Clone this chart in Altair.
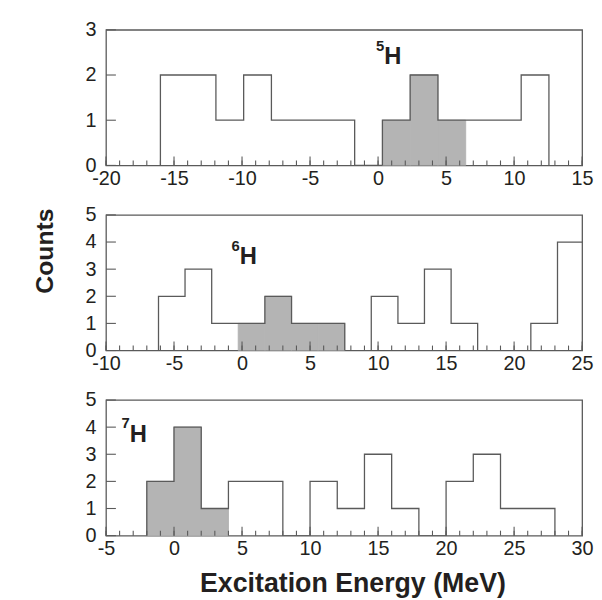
import altair as alt
import pandas as pd

# ---- data ----
# 5H
h5_edges = [-16.0, -13.96, -11.92, -9.88, -7.84, -5.80, -3.76, -1.72, 0.32, 2.36, 4.40, 6.44, 8.48, 10.52, 12.56]
h5_counts = [2, 2, 1, 2, 1, 1, 1, 0, 1, 2, 1, 1, 1, 2]
h5_shaded = [0, 0, 0, 0, 0, 0, 0, 0, 1, 1, 1, 0, 0, 0]
# 6H
h6_edges = [-6.14, -4.19, -2.23, -0.28, 1.68, 3.64, 5.59, 7.55, 9.50, 11.46, 13.41, 15.37, 17.32, 19.28, 21.23, 23.19, 25.14]
h6_counts = [2, 3, 1, 1, 2, 1, 1, 0, 2, 1, 3, 1, 0, 0, 1, 4]
h6_shaded = [0, 0, 0, 1, 1, 1, 1, 0, 0, 0, 0, 0, 0, 0, 0, 0]
# 7H
h7_edges = [-2, 0, 2, 4, 6, 8, 10, 12, 14, 16, 18, 20, 22, 24, 26, 28]
h7_counts = [2, 4, 1, 2, 2, 0, 2, 1, 3, 1, 0, 2, 3, 1, 1]
h7_shaded = [1, 1, 1, 0, 0, 0, 0, 0, 0, 0, 0, 0, 0, 0, 0]

x_domains = [[-20, 15], [-10, 25], [-5, 30]]
y_maxes = [3, 5, 5]
mass_numbers = ["5", "6", "7"]
y_title = "Counts"
x_title = "Excitation Energy (MeV)"

# ---- style ----
W, H = 481, 137
LINE = "#5a5a5a"
FILL = "#b4b4b4"
TEXT = "#231f20"
FONT = "Liberation Sans"


def panel(edges, counts, shaded, xdom, ymax, mass, hx, hy, xt=None, yt=None):
    n = len(counts)
    bins = pd.DataFrame({"x": edges[:-1], "x2": edges[1:], "y": counts, "s": shaded})
    bins = bins[bins["s"] == 1]
    steps = pd.DataFrame({
        "x": [edges[0]] + list(edges[:-1]) + [edges[-1]],
        "y": [0] + list(counts) + [0],
        "i": list(range(n + 2)),
    })
    major = list(range(xdom[0], xdom[1] + 1, 5))
    minor = list(range(xdom[0], xdom[1] + 1))
    yvals = list(range(0, ymax + 1))

    xscale = alt.Scale(domain=xdom, nice=False, zero=False)
    yscale = alt.Scale(domain=[0, ymax], nice=False, zero=True)

    xaxis_kw = dict(values=major, labelFontSize=20, labelPadding=3, labelFlush=False,
                    labelOverlap=False, labelBound=False, ticks=False, domain=False, grid=False,
                    labelColor=TEXT, labelFont=FONT, labelExpr="'' + datum.value")
    if xt:
        xaxis_kw.update(title=xt, titleFontSize=27, titleFontWeight="bold", titleFont=FONT,
                        titleColor=TEXT, titleX=249, titleY=56, titleAlign="center",
                        titleBaseline="alphabetic")
    else:
        xaxis_kw.update(title=None)
    yaxis_kw = dict(values=yvals, labelFontSize=20, labelPadding=10, ticks=False, domain=False,
                    grid=False, labelColor=TEXT, labelFont=FONT, labelExpr="'' + datum.value")
    if yt:
        yaxis_kw.update(title=yt, titleFontSize=25, titleFontWeight="bold", titleFont=FONT,
                        titleColor=TEXT, titleAngle=270, titleX=-62, titleY=36,
                        titleAlign="center", titleBaseline="middle")
    else:
        yaxis_kw.update(title=None)
    xaxis = alt.Axis(**xaxis_kw)
    yaxis = alt.Axis(**yaxis_kw)

    X = lambda: alt.X("x:Q", scale=xscale, axis=xaxis)
    Y = lambda: alt.Y("y:Q", scale=yscale, axis=yaxis)

    fill = alt.Chart(bins).mark_rect(fill=FILL, stroke=FILL, strokeWidth=1, clip=True).encode(
        x=X(), x2="x2:Q", y=Y(), y2=alt.datum(0))

    minor_t = alt.Chart(pd.DataFrame({"x": minor})).mark_rule(color=LINE, strokeWidth=1.1).encode(
        x=X(), y=alt.value(H), y2=alt.value(H - 5))
    major_t = alt.Chart(pd.DataFrame({"x": major})).mark_rule(color=LINE, strokeWidth=1.1).encode(
        x=X(), y=alt.value(H), y2=alt.value(H - 9))
    y_t = alt.Chart(pd.DataFrame({"y": yvals})).mark_rule(color=LINE, strokeWidth=1.1).encode(
        y=Y(), x=alt.value(0), x2=alt.value(10))

    step = alt.Chart(steps).mark_line(interpolate="step-after", color=LINE, strokeWidth=1.3,
                                      clip=True).encode(x=X(), y=Y(), order="i:Q")

    h_lab = alt.Chart(pd.DataFrame({"t": ["H"]})).mark_text(
        align="left", baseline="alphabetic", fontSize=24, fontWeight="bold", font=FONT,
        color=TEXT).encode(x=alt.value(hx), y=alt.value(hy), text="t:N")
    m_lab = alt.Chart(pd.DataFrame({"t": [mass]})).mark_text(
        align="right", baseline="alphabetic", fontSize=15, fontWeight="bold", font=FONT,
        color=TEXT).encode(x=alt.value(hx), y=alt.value(hy - 14), text="t:N")

    return alt.layer(fill, minor_t, major_t, y_t, step, h_lab, m_lab).properties(width=W, height=H)


p1 = panel(h5_edges, h5_counts, h5_shaded, x_domains[0], y_maxes[0], mass_numbers[0], 281, 35)
p2 = panel(h6_edges, h6_counts, h6_shaded, x_domains[1], y_maxes[1], mass_numbers[1], 135, 50,
           yt=y_title)
p3 = panel(h7_edges, h7_counts, h7_shaded, x_domains[2], y_maxes[2], mass_numbers[2], 24, 42,
           xt=x_title)

chart = alt.vconcat(p1, p2, p3, spacing=50, bounds="flush").properties(
    padding={"left": 24, "top": 8, "right": 0, "bottom": 0},
    background="white",
).configure_view(stroke=LINE, strokeWidth=1.3)

chart.save("out.html", embed_options={"renderer": "svg", "actions": False})
